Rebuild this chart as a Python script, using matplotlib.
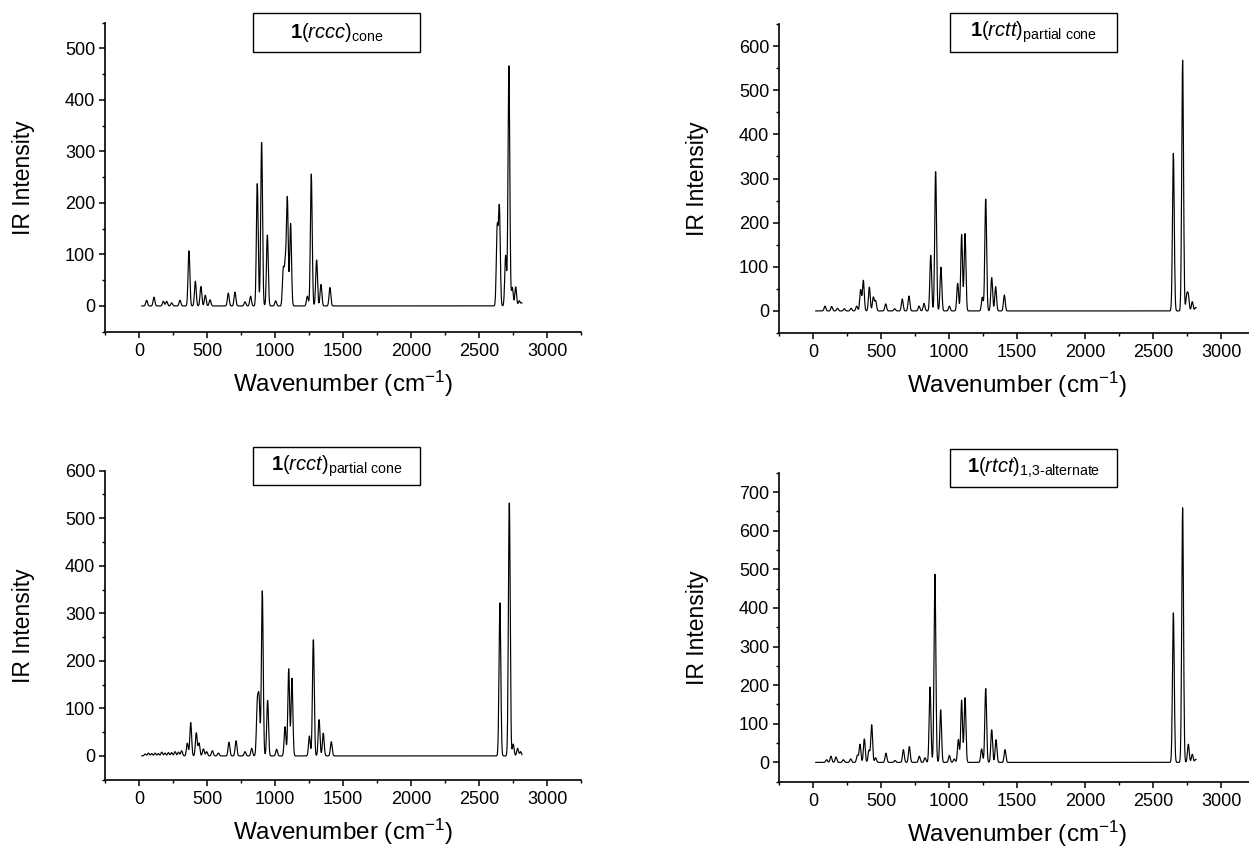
import numpy as np
import matplotlib
matplotlib.use("Agg")
import matplotlib.pyplot as plt
from matplotlib.patches import Rectangle
from matplotlib.ticker import MultipleLocator

plt.rcParams['font.family'] = ['Liberation Sans', 'DejaVu Sans']
plt.rcParams['mathtext.fontset'] = 'custom'
plt.rcParams['mathtext.rm'] = 'Liberation Sans'
plt.rcParams['mathtext.it'] = 'Liberation Sans:italic'
plt.rcParams['mathtext.bf'] = 'Liberation Sans:bold'

# --- peak lists (wavenumber cm-1, intensity) ---
rccc_pos = [56, 110, 179, 203, 240, 301, 367, 414, 455, 487, 522, 656, 705, 779, 820,
            869, 901, 943, 1004, 1060, 1075, 1090, 1114, 1237, 1266, 1305, 1337, 1403,
            2632, 2648, 2694, 2718, 2743, 2768, 2794, 2812]
rccc_int = [11, 17, 9, 9, 6, 11, 108, 48, 38, 21, 12, 25, 27, 8, 19,
            240, 321, 139, 10, 70, 78, 207, 160, 19, 256, 90, 42, 36,
            150, 190, 98, 466, 36, 37, 10, 6]

rctt_pos = [88, 137, 180, 230, 280, 321, 350, 370, 414, 443, 460, 534, 600, 656, 705,
            779, 816, 865, 901, 940, 1002, 1063, 1092, 1117, 1244, 1269, 1313, 1342,
            1406, 2648, 2716, 2746, 2758, 2787, 2812]
rctt_int = [11, 10, 6, 5, 6, 11, 48, 69, 54, 31, 23, 16, 5, 27, 34,
            11, 17, 127, 319, 99, 11, 63, 173, 177, 31, 256, 76, 55,
            36, 357, 568, 33, 33, 21, 8]

rcct_pos = [45, 69, 93, 118, 142, 167, 191, 216, 240, 265, 290, 313, 355, 380, 421,
            441, 473, 497, 539, 583, 661, 713, 779, 828, 869, 882, 906, 945, 1011,
            1073, 1100, 1124, 1252, 1281, 1323, 1354, 1413, 2652, 2721, 2750, 2782,
            2804]
rcct_int = [4, 6, 5, 6, 5, 8, 6, 7, 7, 9, 8, 11, 27, 70, 49,
            27, 15, 9, 11, 6, 29, 32, 9, 16, 105, 115, 347, 118, 14,
            62, 183, 163, 42, 247, 77, 48, 30, 322, 538, 25, 16,
            9]

rtct_pos = [100, 132, 169, 223, 277, 326, 345, 377, 411, 431, 460, 536, 603, 664, 708,
            781, 823, 860, 896, 938, 1002, 1038, 1068, 1092, 1117, 1239, 1269, 1313,
            1345, 1411, 2648, 2716, 2758, 2787, 2812]
rtct_int = [7, 16, 14, 7, 9, 18, 47, 61, 31, 98, 12, 24, 5, 33, 41,
            16, 12, 195, 487, 136, 18, 9, 59, 161, 169, 35, 193, 85,
            59, 33, 387, 659, 47, 21, 8]

titles = [r'$\mathbf{1}(\mathit{rccc})_{\mathrm{cone}}$',
          r'$\mathbf{1}(\mathit{rctt})_{\mathrm{partial\ cone}}$',
          r'$\mathbf{1}(\mathit{rcct})_{\mathrm{partial\ cone}}$',
          r'$\mathbf{1}(\mathit{rtct})_{\mathrm{1{,}3\text{-}alternate}}$']

W, H = 1249, 848
grid = np.arange(20, 2816, 2.0)


def spectrum(pos, inten, sigma=6.5):
    y = np.zeros_like(grid)
    for p, a in zip(pos, inten):
        y += a * np.exp(-0.5 * ((grid - p) / sigma) ** 2)
    return y


def px_axes(fig, left, top, width, height):
    return fig.add_axes([left / W, 1 - (top + height) / H, width / W, height / H])


fig = plt.figure(figsize=(W / 100, H / 100), dpi=100)

panels = [
    (rccc_pos, rccc_int, (105, 22.7), (-50, 550), (253, 13, 167, 39)),
    (rctt_pos, rctt_int, (779, 24.0), (-50, 650), (950, 13, 167, 39)),
    (rcct_pos, rcct_int, (105, 470.7), (-50, 600), (253, 447, 167, 38)),
    (rtct_pos, rtct_int, (779, 472.7), (-50, 750), (950, 449, 167, 38)),
]

for (pos, inten, (lx, ty), ylim, box), title in zip(panels, titles):
    ax = px_axes(fig, lx, ty, 476.3, 309)
    ax.plot(grid, spectrum(pos, inten), color='black', lw=0.85)
    ax.set_xlim(-250, 3250)
    ax.set_ylim(*ylim)
    ax.spines['top'].set_visible(False)
    ax.spines['right'].set_visible(False)
    ax.spines['left'].set_linewidth(1.2)
    ax.spines['bottom'].set_linewidth(1.2)
    ax.xaxis.set_major_locator(MultipleLocator(500))
    ax.xaxis.set_minor_locator(MultipleLocator(250))
    ax.yaxis.set_major_locator(MultipleLocator(100))
    ax.yaxis.set_minor_locator(MultipleLocator(50))
    ax.set_xticks([0, 500, 1000, 1500, 2000, 2500, 3000])
    ax.tick_params(which='major', direction='out', length=4, width=1.1, labelsize=13)
    ax.tick_params(which='minor', direction='out', length=2.5, width=1.0)
    ax.tick_params(axis='x', pad=4)
    ax.tick_params(axis='y', pad=3)
    ax.set_xlabel(r'Wavenumber (cm$^{-1}$)', fontsize=17.5)
    ax.set_ylabel('IR Intensity', fontsize=16.5)
    ax.xaxis.set_label_coords(0.5, -0.168)
    ax.xaxis.label.set_va('center')
    ax.yaxis.set_label_coords(-0.172, 0.5)
    ax.yaxis.label.set_va('center')

    bx, by, bw, bh = box
    fig.patches.append(Rectangle((bx / W, 1 - (by + bh) / H), bw / W, bh / H,
                                 transform=fig.transFigure, facecolor='white',
                                 edgecolor='black', lw=1.0, zorder=5))
    fig.text((bx + bw / 2) / W, 1 - (by + bh / 2) / H, title, fontsize=14.5,
             ha='center', va='center', zorder=6)

fig.savefig('out.png', dpi=100)
